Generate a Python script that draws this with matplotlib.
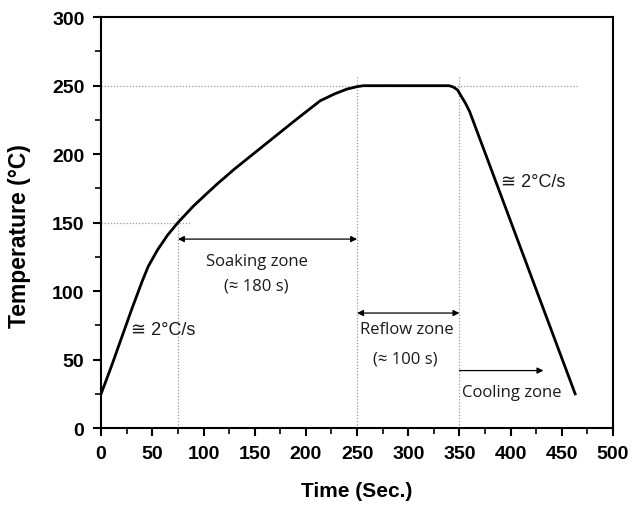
import matplotlib
matplotlib.use("Agg")
import matplotlib.pyplot as plt
import numpy as np
from matplotlib.ticker import MultipleLocator

# Reflow profile (time s, temperature °C)
time_s = [0, 10, 20, 30, 40, 46, 55, 65, 75, 90, 100, 113, 130, 150, 170, 190, 214, 228, 240, 250, 256, 262,
          300, 340, 344, 348, 352, 356, 360, 463]
temp_c = [25, 45, 66, 87, 107, 118, 130, 141, 150, 162, 169, 178, 189, 201, 213, 225, 239, 244, 247.5, 249.3, 250, 250,
          250, 250, 249, 247, 242, 237, 231, 25]

xticks = [0, 50, 100, 150, 200, 250, 300, 350, 400, 450, 500]
yticks = [0, 50, 100, 150, 200, 250, 300]

fig = plt.figure(figsize=(6.32, 5.06), dpi=100)
ax = fig.add_axes([0.160, 0.152, 0.810, 0.812])

# guide lines
dot = dict(color="#999999", lw=0.9, ls=(0, (1, 1.5)))
ax.plot([0, 465], [250, 250], **dot)
ax.plot([0, 87], [150, 150], **dot)
ax.plot([75, 75], [0, 158], **dot)
ax.plot([250, 250], [0, 258], **dot)
ax.plot([350, 350], [0, 258], **dot)

ax.plot(time_s, temp_c, color="black", lw=2.0, solid_joinstyle="round")

arrow = dict(arrowstyle="<|-|>", color="black", lw=0.9, mutation_scale=9, shrinkA=0, shrinkB=0)
ax.annotate("", xy=(75, 138), xytext=(250, 138), arrowprops=arrow)
ax.annotate("", xy=(250, 84), xytext=(350, 84), arrowprops=arrow)
ax.annotate("", xy=(432, 42), xytext=(350, 42),
            arrowprops=dict(arrowstyle="-|>", color="black", lw=0.9, mutation_scale=9, shrinkA=0, shrinkB=0))

tf = dict(family="Open Sans", fontsize=12, color="#1a1a1a")
ax.text(152, 122, "Soaking zone", ha="center", va="center", **tf)
ax.text(152, 104, "(≈ 180 s)", ha="center", va="center", **tf)
ax.text(299, 72, "Reflow zone", ha="center", va="center", **tf)
ax.text(297, 51, "(≈ 100 s)", ha="center", va="center", **tf)
ax.text(352, 26, "Cooling zone", ha="left", va="center", **tf)

sf = dict(family=["Liberation Sans", "DejaVu Sans"], fontsize=13, color="#1a1a1a")
ax.text(29, 72, "≅ 2°C/s", ha="left", va="center", **sf)
ax.text(391, 180, "≅ 2°C/s", ha="left", va="center", **sf)

ax.set_xlim(0, 500)
ax.set_ylim(0, 300)
ax.set_xticks(xticks)
ax.set_yticks(yticks)
ax.xaxis.set_minor_locator(MultipleLocator(25))
ax.yaxis.set_minor_locator(MultipleLocator(25))
ax.tick_params(which="major", direction="out", length=6, width=1.5, labelsize=14, pad=6)
ax.tick_params(which="minor", direction="out", length=4, width=1.2)
for lab in ax.get_xticklabels() + ax.get_yticklabels():
    lab.set_family("Liberation Sans")
    lab.set_fontweight("bold")
for sp in ax.spines.values():
    sp.set_linewidth(1.5)

ax.set_xlabel("Time (Sec.)", family="Liberation Sans", fontweight="bold", fontsize=15)
ax.set_ylabel("Temperature (°C)", family="Liberation Sans", fontweight="bold", fontsize=16.5)
ax.xaxis.set_label_coords(0.5, -0.128)
ax.yaxis.set_label_coords(-0.137, 0.47)

fig.savefig("out.png", dpi=100)
